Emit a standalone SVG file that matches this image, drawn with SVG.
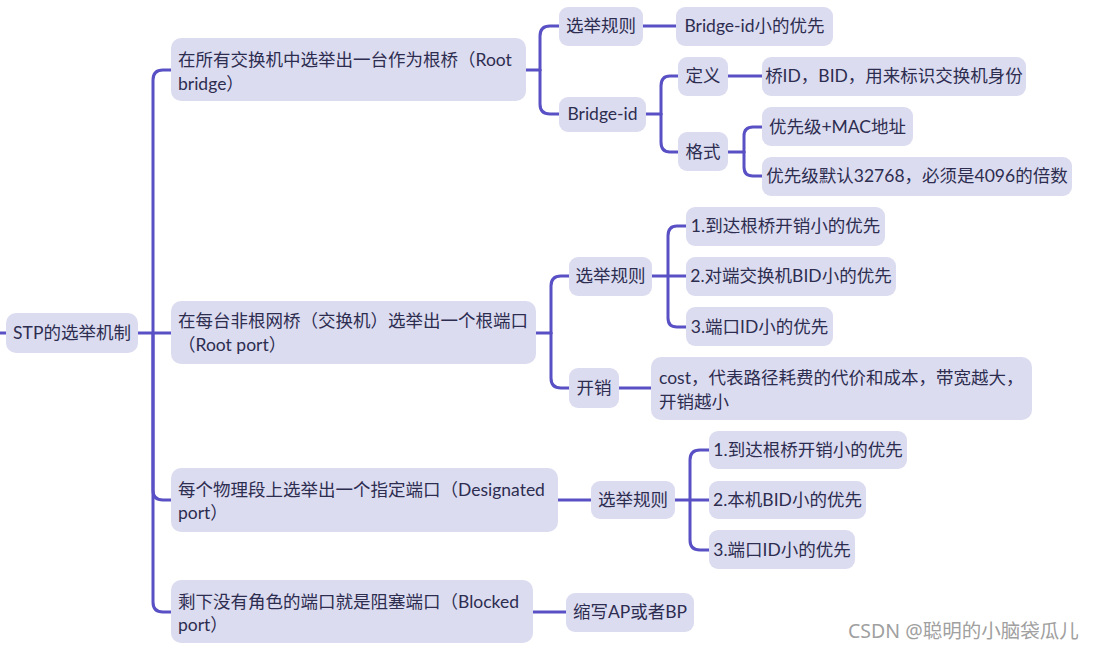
<svg xmlns="http://www.w3.org/2000/svg" width="1094" height="649" viewBox="0 0 1094 649">
<style>
.n rect{fill:#dcdcf1;}
.n text{font-family:"Lato","Noto Sans CJK SC",sans-serif;font-size:17.5px;fill:#2d2d50;}
.c{text-anchor:middle;}
#edges path{fill:none;stroke:#5850c4;stroke-width:3;stroke-linecap:round;}
.wm{font-family:"Noto Sans","Noto Sans CJK SC",sans-serif;font-size:19.5px;fill:#a0a0a0;}
</style>
<rect width="1094" height="649" fill="#ffffff"/>
<g id="edges">
<path d="M0,333 H6"/>
<path d="M138,333 H171"/>
<path d="M153,333 V80 Q153,70 163,70 H171"/>
<path d="M153,333 V490 Q153,500 163,500 H171"/>
<path d="M153,333 V602 Q153,612 163,612 H171"/>
<path d="M526,70 H540"/>
<path d="M540,70 V36 Q540,26 550,26 H559"/>
<path d="M540,70 V104 Q540,114 550,114 H559"/>
<path d="M643,26 H676"/>
<path d="M646,114 H661"/>
<path d="M661,114 V86 Q661,76 670,76 H678"/>
<path d="M661,114 V142 Q661,152 670,152 H678"/>
<path d="M728,76 H762"/>
<path d="M728,152 H744"/>
<path d="M744,152 V136 Q744,127 753,127 H762"/>
<path d="M744,152 V167 Q744,176 753,176 H762"/>
<path d="M536,333 H551"/>
<path d="M551,333 V286 Q551,276 561,276 H569"/>
<path d="M551,333 V378 Q551,388 561,388 H569"/>
<path d="M652,276 H686"/>
<path d="M668,276 V236 Q668,226 677,226 H686"/>
<path d="M668,276 V318 Q668,327 677,327 H686"/>
<path d="M619,388 H651"/>
<path d="M558,500 H591"/>
<path d="M675,500 H709"/>
<path d="M690,500 V460 Q690,450 700,450 H709"/>
<path d="M690,500 V540 Q690,550 700,550 H709"/>
<path d="M533,612 H566"/>
</g>
<g id="root" class="n"><rect x="6" y="313" width="132" height="40" rx="10"/><text class="c" x="72" y="339">STP的选举机制</text></g>
<g id="b1" class="n"><rect x="171" y="38" width="355" height="63" rx="10"/><text x="178" y="66">在所有交换机中选举出一台作为根桥（Root</text><text x="178" y="90">bridge）</text></g>
<g id="b1r" class="n"><rect x="559" y="7" width="84" height="39" rx="9"/><text class="c" x="601" y="32">选举规则</text></g>
<g id="b1r1" class="n"><rect x="676" y="7" width="157" height="39" rx="9"/><text class="c" x="754.5" y="32">Bridge-id小的优先</text></g>
<g id="b1b" class="n"><rect x="559" y="97" width="87" height="35" rx="9"/><text class="c" x="602.5" y="120">Bridge-id</text></g>
<g id="def" class="n"><rect x="678" y="57" width="50" height="39" rx="9"/><text class="c" x="703" y="82">定义</text></g>
<g id="def1" class="n"><rect x="762" y="57" width="264" height="39" rx="9"/><text class="c" x="894" y="82">桥ID，BID，用来标识交换机身份</text></g>
<g id="fmt" class="n"><rect x="678" y="132" width="50" height="39" rx="9"/><text class="c" x="703" y="158">格式</text></g>
<g id="fmt1" class="n"><rect x="762" y="107" width="151" height="39" rx="9"/><text class="c" x="837.5" y="133">优先级+MAC地址</text></g>
<g id="fmt2" class="n"><rect x="762" y="157" width="310" height="39" rx="9"/><text class="c" x="917" y="182">优先级默认32768，必须是4096的倍数</text></g>
<g id="b2" class="n"><rect x="171" y="301" width="365" height="63" rx="10"/><text x="178" y="327">在每台非根网桥（交换机）选举出一个根端口</text><text x="178" y="351">（Root port）</text></g>
<g id="b2r" class="n"><rect x="569" y="257" width="83" height="39" rx="9"/><text class="c" x="610.5" y="282">选举规则</text></g>
<g id="b2r1" class="n"><rect x="686" y="207" width="199" height="39" rx="9"/><text class="c" x="785.5" y="232">1.到达根桥开销小的优先</text></g>
<g id="b2r2" class="n"><rect x="686" y="257" width="210" height="39" rx="9"/><text class="c" x="791" y="282">2.对端交换机BID小的优先</text></g>
<g id="b2r3" class="n"><rect x="686" y="307" width="147" height="39" rx="9"/><text class="c" x="759.5" y="333">3.端口ID小的优先</text></g>
<g id="b2c" class="n"><rect x="569" y="368" width="50" height="40" rx="9"/><text class="c" x="594" y="394">开销</text></g>
<g id="b2c1" class="n"><rect x="651" y="357" width="381" height="63" rx="10"/><text x="659" y="384">cost，代表路径耗费的代价和成本，带宽越大，</text><text x="659" y="408">开销越小</text></g>
<g id="b3" class="n"><rect x="171" y="468" width="387" height="64" rx="10"/><text x="178" y="496">每个物理段上选举出一个指定端口（Designated</text><text x="178" y="519">port）</text></g>
<g id="b3r" class="n"><rect x="591" y="481" width="84" height="38" rx="9"/><text class="c" x="633" y="506">选举规则</text></g>
<g id="b3r1" class="n"><rect x="709" y="431" width="198" height="38" rx="9"/><text class="c" x="808" y="456">1.到达根桥开销小的优先</text></g>
<g id="b3r2" class="n"><rect x="709" y="481" width="157" height="38" rx="9"/><text class="c" x="787.5" y="506">2.本机BID小的优先</text></g>
<g id="b3r3" class="n"><rect x="709" y="530" width="146" height="39" rx="9"/><text class="c" x="782" y="556">3.端口ID小的优先</text></g>
<g id="b4" class="n"><rect x="171" y="580" width="362" height="63" rx="10"/><text x="178" y="608">剩下没有角色的端口就是阻塞端口（Blocked</text><text x="178" y="631">port）</text></g>
<g id="b4r" class="n"><rect x="566" y="593" width="128" height="39" rx="9"/><text class="c" x="630" y="618">缩写AP或者BP</text></g>
<text class="wm" x="848" y="638">CSDN @聪明的小脑袋瓜儿</text>
</svg>
